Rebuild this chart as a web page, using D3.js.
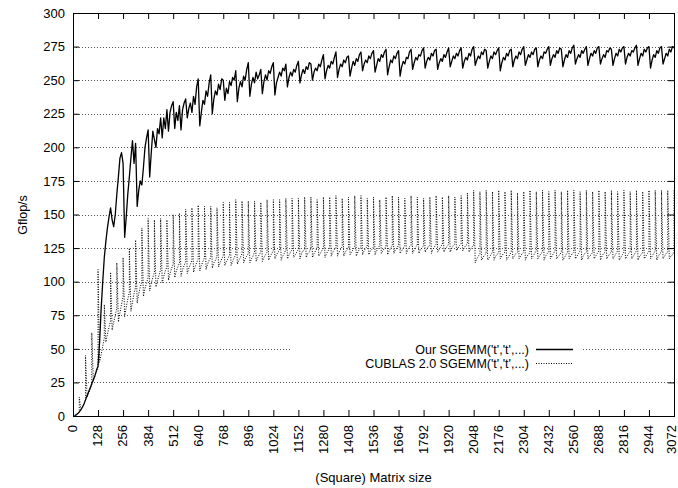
<!DOCTYPE html>
<html>
<head>
<meta charset="utf-8">
<script src="https://cdn.jsdelivr.net/npm/d3@7"></script>
<style>
  body { margin: 0; background: #fff; }
  svg { display: block; }
  text { font-family: "Liberation Sans", Arial, Helvetica, sans-serif; font-size: 13px; fill: #000; }
</style>
</head>
<body>
<svg id="chart" width="678" height="488"></svg>
<script>
// matrix sizes that were measured (every 8)
var sizes = d3.range(8, 3073, 8);

// Our SGEMM('t','t',...) - one row per 64 sizes
var ourGflops = [
  0.3, 0.8, 1.8, 3, 4.5, 6.5, 9, 12,
  15, 18, 21, 24, 27, 30, 34, 37,
  55, 80, 100, 118, 130, 140, 148, 155,
  146, 141, 150, 165, 178, 192, 196, 188,
  133, 148, 165, 178, 192, 205, 188, 203,
  156, 168, 175, 172, 185, 200, 207, 213,
  178, 196, 212, 206, 200, 214, 210, 222,
  207, 222, 214, 228, 212, 226, 231, 234,
  214, 226, 220, 231, 213, 228, 233, 236,
  222, 229, 233, 226, 238, 232, 245, 251,
  216, 226, 235, 232, 242, 238, 248, 254,
  225, 236, 242, 239, 247, 243, 251, 250,
  235, 244, 240, 249, 246, 252, 250, 257,
  234, 244, 249, 245, 253, 250, 258, 263,
  238, 247, 252, 248, 256, 251, 254, 258,
  240, 249, 254, 250, 257, 255, 260, 263,
  239, 248, 252, 256, 253, 259, 257, 262,
  245, 252, 256, 253, 258, 256, 261, 264,
  248, 254, 258, 255, 260, 258, 263, 262,
  250, 256, 259, 257, 262, 260, 265, 269,
  251, 257, 261, 259, 264, 262, 267, 271,
  252, 258, 262, 260, 265, 263, 267, 268,
  253, 259, 264, 261, 266, 264, 269, 271,
  257, 262, 265, 263, 268, 266, 270, 272,
  256, 261, 266, 264, 269, 267, 271, 273,
  254, 260, 265, 263, 268, 266, 270, 272,
  253, 260, 264, 262, 267, 266, 271, 273,
  258, 263, 267, 265, 269, 268, 272, 274,
  259, 264, 267, 265, 270, 268, 272, 273,
  258, 263, 266, 264, 269, 267, 271, 274,
  260, 264, 268, 266, 270, 268, 272, 274,
  259, 264, 267, 265, 270, 268, 273, 275,
  261, 265, 268, 266, 271, 269, 273, 272,
  259, 264, 268, 266, 271, 269, 272, 274,
  257, 263, 267, 265, 270, 268, 272, 273,
  260, 265, 268, 266, 271, 269, 273, 275,
  261, 265, 269, 267, 271, 269, 273, 274,
  260, 265, 268, 266, 271, 270, 273, 275,
  261, 266, 269, 267, 272, 270, 274, 273,
  260, 265, 269, 267, 272, 270, 274, 276,
  262, 266, 269, 267, 272, 270, 273, 275,
  261, 266, 270, 268, 272, 270, 274, 275,
  262, 266, 269, 267, 272, 271, 274, 273,
  261, 266, 270, 268, 273, 271, 274, 275,
  262, 267, 270, 268, 272, 271, 274, 276,
  261, 266, 270, 268, 273, 271, 274, 275,
  259, 265, 269, 267, 272, 270, 274, 275,
  262, 266, 270, 268, 273, 271, 275, 274
];

// CUBLAS 2.0 SGEMM('t','t',...) off the multiples of 32
var cublasGflops = [
  0.3, 1, 2, 3, 5, 7, 9, 12,
  14, 17, 20, 23, 26, 30, 33, 37,
  40, 46, 52, 58, 55, 61, 66, 71,
  64, 70, 75, 80, 70, 77, 83, 89,
  74, 81, 87, 92, 78, 85, 91, 96,
  84, 91, 96, 100, 89, 95, 99, 103,
  93, 99, 103, 107, 96, 101, 105, 109,
  99, 104, 108, 111, 101, 106, 110, 113,
  103, 108, 111, 114, 104, 109, 112, 115,
  106, 110, 113, 116, 107, 111, 114, 117,
  108, 112, 115, 118, 109, 113, 116, 118,
  110, 114, 116, 119, 111, 114, 117, 119,
  112, 115, 117, 120, 112, 115, 118, 120,
  113, 116, 118, 121, 114, 117, 119, 121,
  114, 117, 119, 122, 115, 118, 120, 122,
  115, 118, 120, 122, 116, 119, 121, 123,
  117, 120, 122, 123, 116, 119, 121, 124,
  117, 120, 122, 124, 118, 120, 122, 124,
  117, 121, 123, 124, 118, 121, 122, 125,
  118, 121, 123, 125, 119, 121, 123, 125,
  118, 121, 123, 125, 119, 122, 124, 125,
  119, 122, 124, 126, 119, 122, 124, 125,
  120, 122, 124, 126, 119, 122, 124, 126,
  120, 123, 125, 126, 120, 123, 124, 126,
  120, 123, 125, 127, 121, 123, 125, 126,
  120, 123, 125, 127, 121, 124, 125, 127,
  121, 123, 125, 127, 121, 124, 126, 127,
  121, 124, 126, 127, 121, 124, 125, 127,
  122, 124, 126, 127, 121, 124, 126, 128,
  122, 124, 126, 128, 122, 125, 126, 128,
  122, 125, 127, 128, 123, 125, 127, 128,
  123, 125, 127, 128, 122, 124, 126, 127,
  114, 117, 119, 121, 116, 118, 120, 121,
  116, 118, 120, 122, 116, 119, 120, 122,
  117, 119, 121, 122, 116, 118, 120, 122,
  117, 119, 121, 122, 117, 119, 121, 122,
  116, 119, 120, 122, 117, 119, 121, 123,
  117, 119, 121, 122, 116, 119, 121, 122,
  117, 119, 121, 123, 117, 119, 120, 122,
  116, 118, 120, 122, 117, 119, 121, 122,
  117, 119, 121, 123, 116, 119, 121, 122,
  117, 119, 120, 122, 117, 119, 121, 123,
  116, 119, 121, 122, 117, 119, 121, 122,
  117, 119, 121, 123, 116, 118, 120, 122,
  117, 119, 121, 122, 117, 119, 121, 123,
  116, 119, 120, 122, 117, 119, 121, 122,
  117, 119, 121, 123, 116, 119, 121, 122,
  117, 119, 121, 122, 117, 119, 120, 122
];

// CUBLAS at the multiples of 32 (the spikes)
var cublasPeakSizes = d3.range(32, 3073, 32);
var cublasPeaks = [
  14, 45, 62, 109, 83, 107, 114, 118,
  125, 131, 140, 147, 146, 147, 146, 150,
  151, 154, 155, 157, 156, 156, 155, 159,
  159, 161, 160, 160, 160, 159, 161, 161,
  161, 162, 162, 162, 163, 163, 161, 163,
  163, 164, 162, 163, 164, 164, 162, 163,
  161, 163, 164, 163, 162, 164, 163, 162,
  163, 164, 163, 164, 163, 164, 166, 168,
  167, 168, 167, 168, 167, 168, 166, 167,
  168, 167, 168, 167, 168, 167, 168, 168,
  167, 168, 167, 168, 167, 168, 167, 168,
  167, 168, 167, 168, 168, 168, 168, 168
];

var xTicks = d3.range(0, 3073, 128);
var yTicks = d3.range(0, 301, 25);
var seriesNames = ["Our SGEMM('t','t',...)", "CUBLAS 2.0 SGEMM('t','t',...)"];

var svg = d3.select('#chart');

var x = d3.scaleLinear().domain([0, 3072]).range([73, 674]);
var y = d3.scaleLinear().domain([0, 300]).range([416, 13]);

svg.append('clipPath').attr('id', 'plot-clip')
  .append('rect')
    .attr('x', x(0)).attr('y', y(300))
    .attr('width', x(3072) - x(0) + 1).attr('height', y(0) - y(300) + 1);

// dotted horizontal grid
svg.append('g').selectAll('line')
  .data(yTicks.filter(function(d) { return d > 0 && d < 300; }))
  .enter().append('line')
    .attr('x1', x(0)).attr('x2', x(3072))
    .attr('y1', function(d) { return Math.round(y(d)) + 0.5; })
    .attr('y2', function(d) { return Math.round(y(d)) + 0.5; })
    .attr('stroke', '#555')
    .attr('stroke-dasharray', '1,2');

// key box hides the grid behind it
svg.append('rect')
  .attr('x', 291).attr('y', 342)
  .attr('width', 291).attr('height', 28)
  .attr('fill', '#fff');

var line = d3.line()
  .x(function(d) { return x(d[0]); })
  .y(function(d) { return y(d[1]); });

var ourPts = sizes.map(function(s, i) { return [s, ourGflops[i]]; });

// CUBLAS: go straight up to the spike at each multiple of 32, then back down
var cublasPts = [];
sizes.forEach(function(s, i) {
  cublasPts.push([s, cublasGflops[i]]);
  var k = cublasPeakSizes.indexOf(s);
  if (k >= 0) cublasPts.push([s, cublasPeaks[k]]);
});

var plot = svg.append('g').attr('clip-path', 'url(#plot-clip)');

plot.append('path')
  .datum(cublasPts)
  .attr('fill', 'none')
  .attr('stroke', '#000')
  .attr('stroke-width', 1)
  .attr('stroke-dasharray', '1,1.5')
  .attr('d', line);

plot.append('path')
  .datum(ourPts)
  .attr('fill', 'none')
  .attr('stroke', '#000')
  .attr('stroke-width', 1.3)
  .attr('stroke-linejoin', 'round')
  .attr('d', line);

// axes, ticks point inwards on all four sides
var xAxis = svg.append('g')
  .attr('transform', 'translate(0,' + y(0) + ')')
  .call(d3.axisBottom(x).tickValues(xTicks).tickFormat(d3.format('d')).tickSizeInner(-6).tickSizeOuter(0));
xAxis.select('.domain').remove();
xAxis.selectAll('text')
  .attr('transform', 'rotate(-90)')
  .attr('x', -9).attr('y', 0)
  .attr('dy', function(d) { return d == 3072 ? '0.15em' : '0.3em'; }) // last one kept inside the page
  .style('text-anchor', 'end');

var yAxis = svg.append('g')
  .attr('transform', 'translate(' + x(0) + ',0)')
  .call(d3.axisLeft(y).tickValues(yTicks).tickSizeInner(-6).tickSizeOuter(0).tickPadding(8));
yAxis.select('.domain').remove();

var topAxis = svg.append('g')
  .attr('transform', 'translate(0,' + y(300) + ')')
  .call(d3.axisTop(x).tickValues(xTicks).tickSizeInner(-6).tickSizeOuter(0).tickFormat(''));
topAxis.select('.domain').remove();

var rightAxis = svg.append('g')
  .attr('transform', 'translate(' + x(3072) + ',0)')
  .call(d3.axisRight(y).tickValues(yTicks).tickSizeInner(-6).tickSizeOuter(0).tickFormat(''));
rightAxis.select('.domain').remove();

// border
svg.append('rect')
  .attr('x', x(0) + 0.5).attr('y', y(300) + 0.5)
  .attr('width', x(3072) - x(0)).attr('height', y(0) - y(300))
  .attr('fill', 'none')
  .attr('stroke', '#000');

// axis titles
svg.append('text')
  .attr('transform', 'translate(27,215) rotate(-90)')
  .attr('text-anchor', 'middle')
  .style('font-size', '12.5px')
  .text('Gflop/s');

svg.append('text')
  .attr('x', 373.5).attr('y', 482)
  .attr('text-anchor', 'middle')
  .text('(Square) Matrix size');

// key
var key = svg.append('g').selectAll('g')
  .data(seriesNames)
  .enter().append('g')
    .attr('transform', function(d, i) { return 'translate(0,' + (349.5 + i * 14) + ')'; });

key.append('text')
  .attr('x', 529).attr('y', 0)
  .attr('dy', '0.35em')
  .attr('text-anchor', 'end')
  .style('font-size', '12.5px')
  .text(function(d) { return d; });

key.append('line')
  .attr('x1', 536).attr('x2', 573)
  .attr('y1', 0).attr('y2', 0)
  .attr('stroke', '#000')
  .attr('stroke-width', function(d, i) { return i == 0 ? 1.3 : 1; })
  .attr('stroke-dasharray', function(d, i) { return i == 0 ? null : '1,1.5'; });
</script>
</body>
</html>
